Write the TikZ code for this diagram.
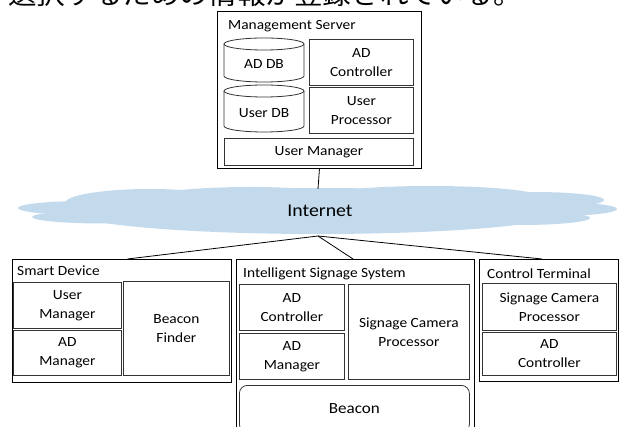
\documentclass[tikz,border=0pt]{standalone}
\usepackage{fontspec}
\setmainfont{Carlito}[FakeStretch=1.1]
\newfontfamily\jpfont{Noto Sans CJK JP}[FakeStretch=1.1]
\usetikzlibrary{calc}
\definecolor{cloudblue}{RGB}{195,218,237}
\begin{document}
\begin{tikzpicture}[x=1pt,y=-1pt,
  lbl/.style={font=\fontsize{14}{19}\selectfont},
  outerbox/.style={draw=black, line width=0.9pt, anchor=north west, inner sep=0pt},
  inbox/.style={draw=black!80, line width=0.8pt, anchor=north west, inner sep=0pt, align=center, lbl},
  dbline/.style={draw=black!80, line width=0.8pt},
  ttl/.style={anchor=base west, inner sep=0pt, lbl},
  conn/.style={draw=black, line width=0.8pt}]
\useasboundingbox (0,0) rectangle (620,427);

% partially visible Japanese line at the top
\node[anchor=base west, inner sep=0pt, font=\jpfont\fontsize{26}{26}\selectfont] (jp) at (8,4.2) {選択するための情報が登録されている。};

% ---------------- Management Server
\node[outerbox, minimum width=204pt, minimum height=157pt] (ms) at (217,11) {};
\node[ttl] (mst) at (228,29.5) {Management Server};
% AD DB cylinder
\draw[dbline] (224,44) -- (224,76) arc[start angle=180, end angle=0, x radius=40, y radius=6] -- (304,44);
\draw[dbline] (264,44) ellipse [x radius=40, y radius=6];
\node[lbl] (addb) at (264,64) {AD DB};
% User DB cylinder
\draw[dbline] (224,91) -- (224,126) arc[start angle=180, end angle=0, x radius=40, y radius=6] -- (304,91);
\draw[dbline] (264,91) ellipse [x radius=40, y radius=6];
\node[lbl] (userdb) at (264,113) {User DB};
\node[inbox, minimum width=104pt, minimum height=46pt] (msadc) at (309,39) {AD\\Controller};
\node[inbox, minimum width=104pt, minimum height=46pt] (msup) at (309,87) {User\\Processor};
\node[inbox, minimum width=189pt, minimum height=27pt] (msum) at (224,138) {User Manager};

% ---------------- Internet cloud
\begin{scope}[fill=cloudblue]
  \fill (318,211) ellipse [x radius=250, y radius=23];
  \fill (150,203) ellipse [x radius=85, y radius=14];
  \fill (85,208) ellipse [x radius=67, y radius=7];
  \fill (105,217) ellipse [x radius=73, y radius=6.5];
  \fill (250,198) ellipse [x radius=100, y radius=11];
  \fill (430,197) ellipse [x radius=110, y radius=11];
  \fill (535,200) ellipse [x radius=69, y radius=8];
  \fill (555,209) ellipse [x radius=62, y radius=7];
  \fill (520,218) ellipse [x radius=70, y radius=7];
\end{scope}
\node[font=\fontsize{18}{18}\selectfont] (inet) at (320,211) {Internet};
\coordinate (ctop) at (318,189);
\coordinate (apex) at (318,236);
\draw[conn] (ms.south) -- (ctop);

% ---------------- Smart Device
\node[outerbox, minimum width=219pt, minimum height=123pt] (sd) at (12,259) {};
\node[ttl] (sdt) at (17,276) {Smart Device};
\node[inbox, minimum width=108pt, minimum height=46pt] (sdum) at (13,282) {User\\Manager};
\node[inbox, minimum width=108pt, minimum height=45pt] (sdam) at (13,330) {AD\\Manager};
\node[inbox, minimum width=106pt, minimum height=94pt] (sdbf) at (123,281) {Beacon\\Finder};

% ---------------- Intelligent Signage System
\node[outerbox, minimum width=238pt, minimum height=190pt] (iss) at (236,259) {};
\node[ttl] (isst) at (243,277) {Intelligent Signage System};
\node[inbox, minimum width=105pt, minimum height=46pt] (issadc) at (239,284) {AD\\Controller};
\node[inbox, minimum width=105pt, minimum height=46pt] (issam) at (239,333) {AD\\Manager};
\node[inbox, minimum width=121pt, minimum height=95pt] (issscp) at (348,284) {Signage Camera\\Processor};
\node[inbox, rounded corners=8pt, minimum width=230pt, minimum height=47pt, font=\fontsize{15.5}{19}\selectfont] (beacon) at (239,385) {Beacon};

% ---------------- Control Terminal
\node[outerbox, minimum width=139pt, minimum height=122pt] (ct) at (479,259) {};
\node[ttl] (ctt) at (487,279) {Control Terminal};
\node[inbox, minimum width=134pt, minimum height=47pt] (ctscp) at (482,283) {Signage Camera\\Processor};
\node[inbox, minimum width=134pt, minimum height=43pt] (ctadc) at (482,332) {AD\\Controller};

% ---------------- connectors
\draw[conn] (apex) -- ($(sd.north west)!0.525!(sd.north east)$);
\draw[conn] (apex) -- ($(iss.north west)!0.49!(iss.north east)$);
\draw[conn] (apex) -- ($(ct.north west)!0.45!(ct.north east)$);
\end{tikzpicture}
\end{document}
